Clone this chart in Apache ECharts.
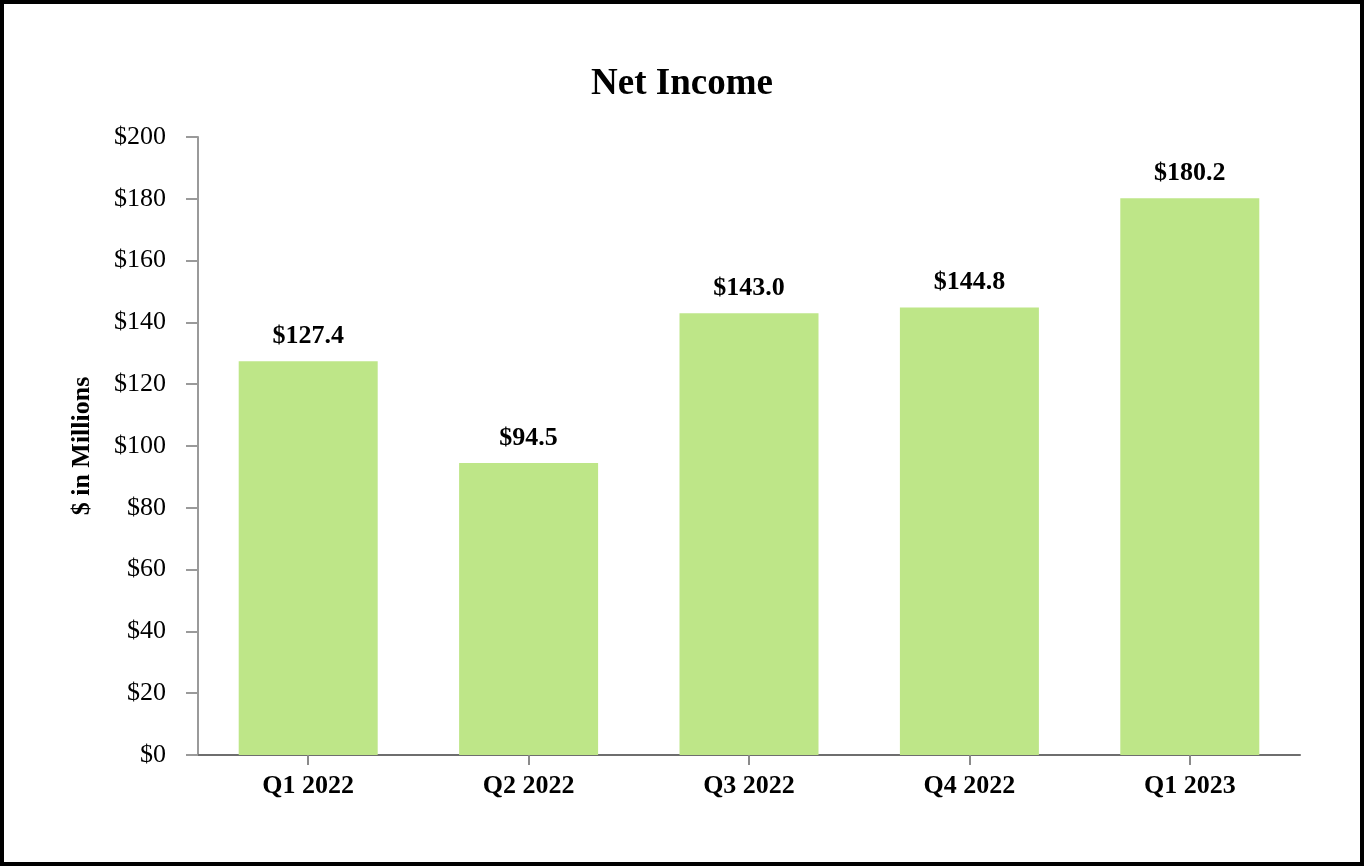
<!DOCTYPE html>
<html>
<head>
<meta charset="utf-8">
<script src="https://cdn.jsdelivr.net/npm/echarts@6/dist/echarts.min.js"></script>
<style>
html,body{margin:0;padding:0;background:#fff;}
#c{width:1364px;height:866px;}
</style>
</head>
<body>
<div id="c"></div>
<script>
const categories = ['Q1 2022', 'Q2 2022', 'Q3 2022', 'Q4 2022', 'Q1 2023'];
const netIncome = [127.4, 94.5, 143.0, 144.8, 180.2];
const yTicks = [0, 20, 40, 60, 80, 100, 120, 140, 160, 180, 200];

const FONT = '"Liberation Serif", "Times New Roman", serif';
const chart = echarts.init(document.getElementById('c'));
chart.setOption({
  animation: false,
  backgroundColor: '#fff',
  title: {
    text: 'Net Income',
    left: 'center',
    top: 61,
    textStyle: { fontFamily: FONT, fontSize: 37, fontWeight: 'bold', color: '#000' }
  },
  graphic: [{
    type: 'rect',
    shape: { x: 2, y: 2, width: 1360, height: 862 },
    style: { fill: 'none', stroke: '#000', lineWidth: 4 },
    silent: true
  }],
  grid: { left: 198, right: 64, top: 137, bottom: 111 },
  xAxis: {
    type: 'category',
    data: categories,
    axisLine: { show: true, lineStyle: { color: '#6e6e6e', width: 2 } },
    axisTick: { show: true, alignWithLabel: true, length: 10, lineStyle: { color: '#8a8a8a', width: 2 } },
    axisLabel: { margin: 18, fontFamily: FONT, fontSize: 26, fontWeight: 'bold', color: '#000' }
  },
  yAxis: {
    type: 'value',
    min: yTicks[0],
    max: yTicks[yTicks.length - 1],
    interval: 20,
    name: '$ in Millions',
    nameLocation: 'middle',
    nameGap: 103,
    nameTextStyle: { fontFamily: FONT, fontSize: 26, fontWeight: 'bold', color: '#000' },
    axisLine: { show: true, lineStyle: { color: '#9a9a9a', width: 2 } },
    axisTick: { show: true, inside: false, length: 12, lineStyle: { color: '#9a9a9a', width: 2 } },
    splitLine: { show: false },
    axisLabel: {
      margin: 32,
      fontFamily: FONT, fontSize: 26, color: '#000',
      formatter: v => '$' + v
    }
  },
  series: [{
    type: 'bar',
    data: netIncome,
    barWidth: 139,
    itemStyle: { color: '#BEE688' },
    label: {
      show: true,
      position: 'top',
      distance: 12,
      fontFamily: FONT, fontSize: 26, fontWeight: 'bold', color: '#000',
      formatter: p => '$' + p.value.toFixed(1)
    }
  }]
});
</script>
</body>
</html>
